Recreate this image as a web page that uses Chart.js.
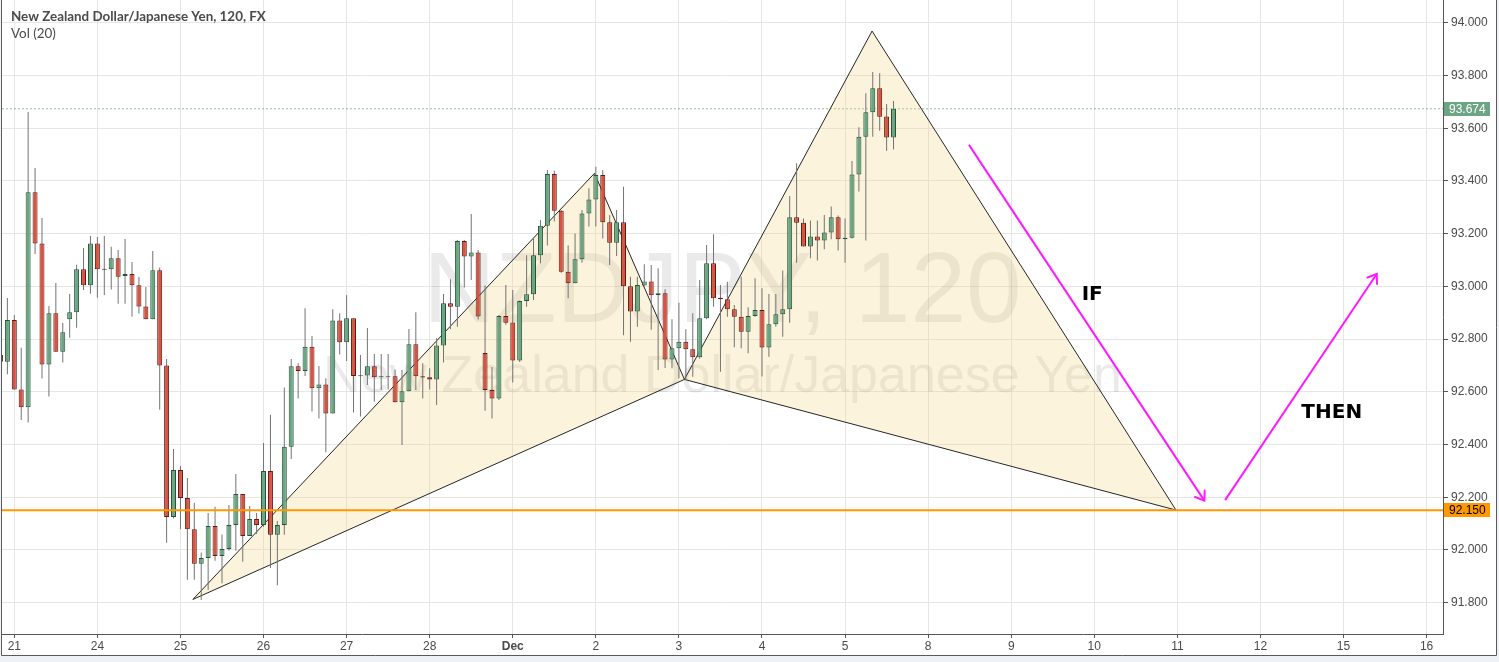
<!DOCTYPE html>
<html><head><meta charset="utf-8">
<script src="https://cdn.jsdelivr.net/npm/chart.js@4.4.1/dist/chart.umd.min.js"></script>
<style>html,body{margin:0;padding:0;background:#eef1f5;overflow:hidden}canvas{display:block}</style>
</head><body>
<canvas id="c" width="1499" height="662"></canvas>
<script>
// ---------- DATA ----------
const firstBar = -2; // bar index of the first candle (0 = first bar of "21")
const opens = [
92.740,92.714,92.872,92.609,92.541,93.357,93.163,92.704,92.898,92.752,
92.875,92.902,93.065,93.004,93.163,93.065,93.065,93.107,93.039,93.047,
93.004,92.924,92.875,93.061,92.700,92.125,92.303,92.197,92.078,91.947,
91.969,92.091,91.977,92.003,92.094,92.212,92.053,92.117,92.094,92.299,
92.057,92.094,92.391,92.697,92.679,92.771,92.613,92.628,92.518,92.871,
92.788,92.879,92.659,92.662,92.697,92.655,92.655,92.659,92.560,92.602,
92.780,92.659,92.655,92.647,92.776,92.936,92.923,93.172,93.113,93.129,
92.747,92.607,92.575,92.888,92.863,92.719,92.945,92.970,93.118,93.230,
93.427,93.287,93.056,93.012,93.103,93.277,93.330,93.423,93.243,93.166,
93.243,93.001,92.905,93.003,93.019,92.966,92.974,92.723,92.765,92.790,
92.761,92.731,92.879,93.088,92.957,92.951,92.913,92.885,92.828,92.888,
92.910,92.768,92.856,92.894,92.913,93.262,93.242,93.151,93.189,93.174,
93.205,93.262,93.179,93.185,93.425,93.568,93.661,93.752,93.645,93.565];
const highs = [
92.750,92.956,92.891,92.767,93.662,93.449,93.260,92.926,93.013,92.861,
92.971,93.082,93.146,93.191,93.187,93.191,93.150,93.138,93.180,93.093,
93.036,92.998,93.134,93.072,92.724,92.383,92.318,92.273,92.179,91.990,
92.140,92.164,92.058,92.170,92.288,92.212,92.167,92.140,92.406,92.513,
92.110,92.616,92.724,92.708,92.917,92.812,92.698,92.651,92.913,92.898,
92.966,92.879,92.740,92.842,92.743,92.743,92.743,92.685,92.683,92.838,
92.902,92.708,92.689,92.803,92.971,93.027,93.176,93.176,93.275,93.138,
93.003,92.694,92.891,93.005,92.986,92.946,93.118,93.184,93.252,93.442,
93.439,93.290,93.155,93.201,93.290,93.372,93.454,93.442,93.271,93.290,
93.378,93.037,93.037,93.084,93.081,93.069,92.989,92.875,92.938,92.837,
92.898,93.024,93.157,93.198,93.005,93.018,92.929,93.037,92.921,93.031,
92.993,92.971,92.971,93.060,93.343,93.467,93.258,93.250,93.250,93.271,
93.303,93.269,93.258,93.476,93.604,93.733,93.814,93.809,93.692,93.704];
const lows = [
92.700,92.667,92.609,92.493,92.483,93.123,92.650,92.582,92.752,92.711,
92.805,92.843,92.986,92.972,92.957,92.967,92.988,92.934,92.934,92.885,
92.897,92.875,92.875,92.532,92.027,92.119,92.078,91.887,91.887,91.810,
91.848,91.959,91.873,91.997,91.997,91.955,92.053,92.060,92.088,91.931,
91.866,92.057,92.345,92.575,92.660,92.525,92.499,92.371,92.518,92.742,
92.717,92.521,92.506,92.626,92.563,92.607,92.609,92.560,92.398,92.602,
92.607,92.575,92.609,92.550,92.711,92.837,92.847,92.996,93.024,92.874,
92.528,92.499,92.569,92.854,92.635,92.713,92.923,92.948,93.088,93.155,
93.246,93.052,92.955,93.012,93.090,93.227,93.227,93.182,93.081,93.115,
92.815,92.790,92.847,93.002,92.835,92.683,92.690,92.689,92.651,92.645,
92.657,92.725,92.875,92.923,92.676,92.885,92.769,92.765,92.746,92.885,
92.658,92.733,92.847,92.809,92.862,93.090,93.151,93.107,93.098,93.141,
93.179,93.136,93.090,93.182,93.360,93.174,93.568,93.591,93.515,93.520];
const closes = [
92.714,92.872,92.609,92.541,93.357,93.163,92.704,92.898,92.752,92.826,
92.902,93.065,93.004,93.163,93.065,93.063,93.107,93.037,93.047,93.004,
92.924,92.875,93.061,92.700,92.125,92.303,92.197,92.078,91.947,91.969,
92.091,91.977,92.003,92.094,92.212,92.053,92.117,92.094,92.299,92.057,
92.094,92.391,92.697,92.679,92.771,92.613,92.628,92.518,92.871,92.788,
92.879,92.660,92.662,92.697,92.655,92.657,92.659,92.560,92.602,92.780,
92.659,92.654,92.647,92.776,92.936,92.923,93.172,93.113,93.129,92.886,
92.607,92.575,92.888,92.862,92.719,92.945,92.970,93.118,93.230,93.427,
93.287,93.056,93.012,93.103,93.277,93.330,93.423,93.243,93.166,93.243,
93.001,92.905,93.005,93.019,92.966,92.974,92.723,92.765,92.790,92.761,
92.731,92.879,93.088,92.955,92.951,92.913,92.885,92.828,92.888,92.910,
92.768,92.856,92.894,92.913,93.262,93.242,93.151,93.189,93.174,93.205,
93.262,93.179,93.185,93.425,93.568,93.661,93.752,93.644,93.565,93.674];

const dayTicks  = [0,12,24,36,48,60,72,84,96,108,120,132,144,156,168,180,192,204];
const dayLabels = ['21','24','25','26','27','28','Dec','2','3','4','5','8','9','10','11','12','15','16'];
const priceTicks = [91.8,92.0,92.2,92.4,92.6,92.8,93.0,93.2,93.4,93.6,93.8,94.0];

// pattern points X, A, B, C, D
const patternBars   = [25.8, 83.8, 96.8, 123.9, 167.8];
const patternPrices = [91.812, 93.429, 92.647, 93.969, 92.151];

// arrows
const arrowFromBar   = [137.9, 174.9];
const arrowFromPrice = [93.537, 92.189];
const arrowToBar     = [171.9, 196.8];
const arrowToPrice   = [92.187, 93.047];

// notes
const noteTexts  = ['IF', 'THEN'];
const noteBars   = [155.7, 190.3];
const notePrices = [92.968, 92.520];

const levelPrice = 92.150;
const lastPrice  = 93.674;

// view range
const xMin = -1.777, xMax = 206.37;
const yMin = 91.6808, yMax = 94.0869;

// ---------- BUILD ----------
const UP='#6ba583', UPB='#225437', DN='#d75442', DNB='#5b1a13', WICK='#737375';
const idx = opens.map((_, k) => firstBar + k);
const isUp = opens.map((o, k) => closes[k] >= o);
const bodies = idx.map((x, k) => ({x, y:[Math.min(opens[k], closes[k]), Math.max(opens[k], closes[k])]}));
const wicks  = idx.map((x, k) => ({x, y:[lows[k], highs[k]]}));
const pt = k => ({x: patternBars[k], y: patternPrices[k]});
const tri1 = [pt(0), pt(1), pt(2), pt(0)];
const tri2 = [pt(2), pt(3), pt(4), pt(2)];

const arrowSets = arrowFromBar.map((b, k) => ({
  type:'line', data:[{x:b, y:arrowFromPrice[k]}, {x:arrowToBar[k], y:arrowToPrice[k]}],
  borderColor:'#ff19ff', borderWidth:2, pointRadius:0, fill:false, order:0
}));

const bgPlugin = {
  id:'bg',
  beforeDraw(chart){
    const c = chart.ctx;
    c.save();
    c.fillStyle = '#eef1f5'; c.fillRect(0,0,chart.width,chart.height);
    c.fillStyle = '#ffffff'; c.fillRect(2,0,1494,655);
    c.restore();
  },
  afterDraw(chart){
    const c = chart.ctx;
    c.save();
    c.strokeStyle = '#5a5a5a'; c.lineWidth = 1;
    c.beginPath();
    c.moveTo(1.5,0); c.lineTo(1.5,655.5); c.lineTo(1496.5,655.5); c.lineTo(1496.5,0);
    c.stroke();
    // title
    c.fillStyle = '#4a4a4a'; c.textBaseline = 'middle'; c.textAlign = 'left';
    c.font = 'bold 13.4px Lato, "Liberation Sans", sans-serif';
    c.fillText('New Zealand Dollar/Japanese Yen, 120, FX', 11, 17);
    c.font = '13.4px Lato, "Liberation Sans", sans-serif';
    c.fillText('Vol (20)', 11, 34);
    // price labels on axis
    const ys = chart.scales.y;
    const boxes = [[lastPrice, '#6ba583', '#ffffff'], [levelPrice, '#ff9800', '#000000']];
    c.font = '12px "Liberation Sans", Arial, sans-serif';
    boxes.forEach(([p, bg, fg]) => {
      const py = ys.getPixelForValue(p);
      c.fillStyle = bg; c.fillRect(chart.chartArea.right + 1, Math.round(py) - 7, 46, 14);
      c.fillStyle = fg; c.fillText(p.toFixed(3), chart.chartArea.right + 6, Math.round(py) + 0.5);
    });
    c.restore();
  }
};

const watermarkPlugin = {
  id:'wm',
  beforeDatasetsDraw(chart){
    const c = chart.ctx, a = chart.chartArea;
    const cx = (a.left + a.right) / 2;
    c.save();
    c.fillStyle = 'rgba(60,60,60,0.11)';
    c.textAlign = 'center'; c.textBaseline = 'alphabetic';
    c.font = '100px "Liberation Sans", Arial, sans-serif';
    c.fillText('NZDJPY, 120', cx, 322);
    c.font = '52px "Liberation Sans", Arial, sans-serif';
    c.fillText('New Zealand Dollar/Japanese Yen', cx, 392);
    c.restore();
  }
};

const notesPlugin = {
  id:'notes',
  afterDatasetsDraw(chart){
    const c = chart.ctx, xs = chart.scales.x, ys = chart.scales.y;
    c.save();
    c.strokeStyle = '#ff19ff'; c.lineWidth = 2; c.lineCap = 'round';
    arrowFromBar.forEach((b, k) => {
      const x1 = xs.getPixelForValue(b), y1 = ys.getPixelForValue(arrowFromPrice[k]);
      const x2 = xs.getPixelForValue(arrowToBar[k]), y2 = ys.getPixelForValue(arrowToPrice[k]);
      const ang = Math.atan2(y1 - y2, x1 - x2);
      const L = 10, h = 0.62;
      c.beginPath();
      c.moveTo(x2 + L*Math.cos(ang + h), y2 + L*Math.sin(ang + h));
      c.lineTo(x2, y2);
      c.lineTo(x2 + L*Math.cos(ang - h), y2 + L*Math.sin(ang - h));
      c.stroke();
    });
    c.fillStyle = '#000000'; c.textAlign = 'center'; c.textBaseline = 'middle';
    c.font = 'bold 20px "DejaVu Sans", Verdana, sans-serif';
    noteTexts.forEach((t, k) => {
      c.fillText(t, xs.getPixelForValue(noteBars[k]), ys.getPixelForValue(notePrices[k]));
    });
    c.restore();
  }
};

new Chart(document.getElementById('c'), {
  type:'bar',
  data:{ datasets:[
    { type:'bar', data:bodies, backgroundColor:isUp.map(u => u ? UP : DN), borderColor:isUp.map(u => u ? UPB : DNB),
      borderWidth:1, borderSkipped:false, maxBarThickness:5, minBarLength:1, grouped:false, order:1 },
    { type:'bar', data:wicks, backgroundColor:WICK, borderWidth:0, maxBarThickness:1, grouped:false, order:2 },
    { type:'line', data:tri1, borderColor:'#262626', borderWidth:1, backgroundColor:'rgba(245,215,140,0.30)',
      fill:'shape', pointRadius:0, tension:0, order:5 },
    { type:'line', data:tri2, borderColor:'#262626', borderWidth:1, backgroundColor:'rgba(245,215,140,0.30)',
      fill:'shape', pointRadius:0, tension:0, order:5 },
    { type:'line', data:[{x:xMin, y:levelPrice}, {x:xMax, y:levelPrice}], borderColor:'#ff9800', borderWidth:2,
      pointRadius:0, fill:false, order:0 },
    { type:'line', data:[{x:xMin, y:lastPrice}, {x:xMax, y:lastPrice}], borderColor:'rgba(107,165,131,0.75)', borderWidth:1,
      borderDash:[2,2], pointRadius:0, fill:false, order:6 },
    ...arrowSets
  ]},
  options:{
    responsive:false, animation:false, devicePixelRatio:1,
    layout:{ padding:{ left:2, top:0, right:0, bottom:0 } },
    plugins:{ legend:{display:false}, tooltip:{enabled:false}, title:{display:false} },
    scales:{
      x:{ type:'linear', min:xMin, max:xMax, offset:false,
        afterBuildTicks: s => { s.ticks = dayTicks.map(v => ({value:v})); },
        afterFit: s => { s.height = 28; s.paddingLeft = 0; s.paddingRight = 0; },
        grid:{ color:'#e6e6e6', tickColor:'#555555', tickLength:4, offset:false },
        border:{ color:'#555555', width:1 },
        ticks:{ autoSkip:false, maxRotation:0, minRotation:0, padding:1, color:'#4a4a4a',
          font: c => ({ family:'"Liberation Sans Narrow","Liberation Sans",Arial,sans-serif', size:12,
                        weight: (c.tick && c.tick.value === 72) ? 'bold' : 'normal' }),
          callback: (v, i) => dayLabels[i] }
      },
      y:{ position:'right', min:yMin, max:yMax,
        afterBuildTicks: s => { s.ticks = priceTicks.map(v => ({value:v})); },
        afterFit: s => { s.width = 56; s.paddingTop = 0; s.paddingBottom = 0; },
        grid:{ color:'#e6e6e6', tickColor:'#555555', tickLength:5 },
        border:{ color:'#555555', width:1 },
        ticks:{ padding:3, color:'#4a4a4a', font:{ family:'"Liberation Sans",Arial,sans-serif', size:12 },
          callback: v => Number(v).toFixed(3) }
      }
    }
  },
  plugins:[bgPlugin, watermarkPlugin, notesPlugin]
});
</script>
</body></html>
